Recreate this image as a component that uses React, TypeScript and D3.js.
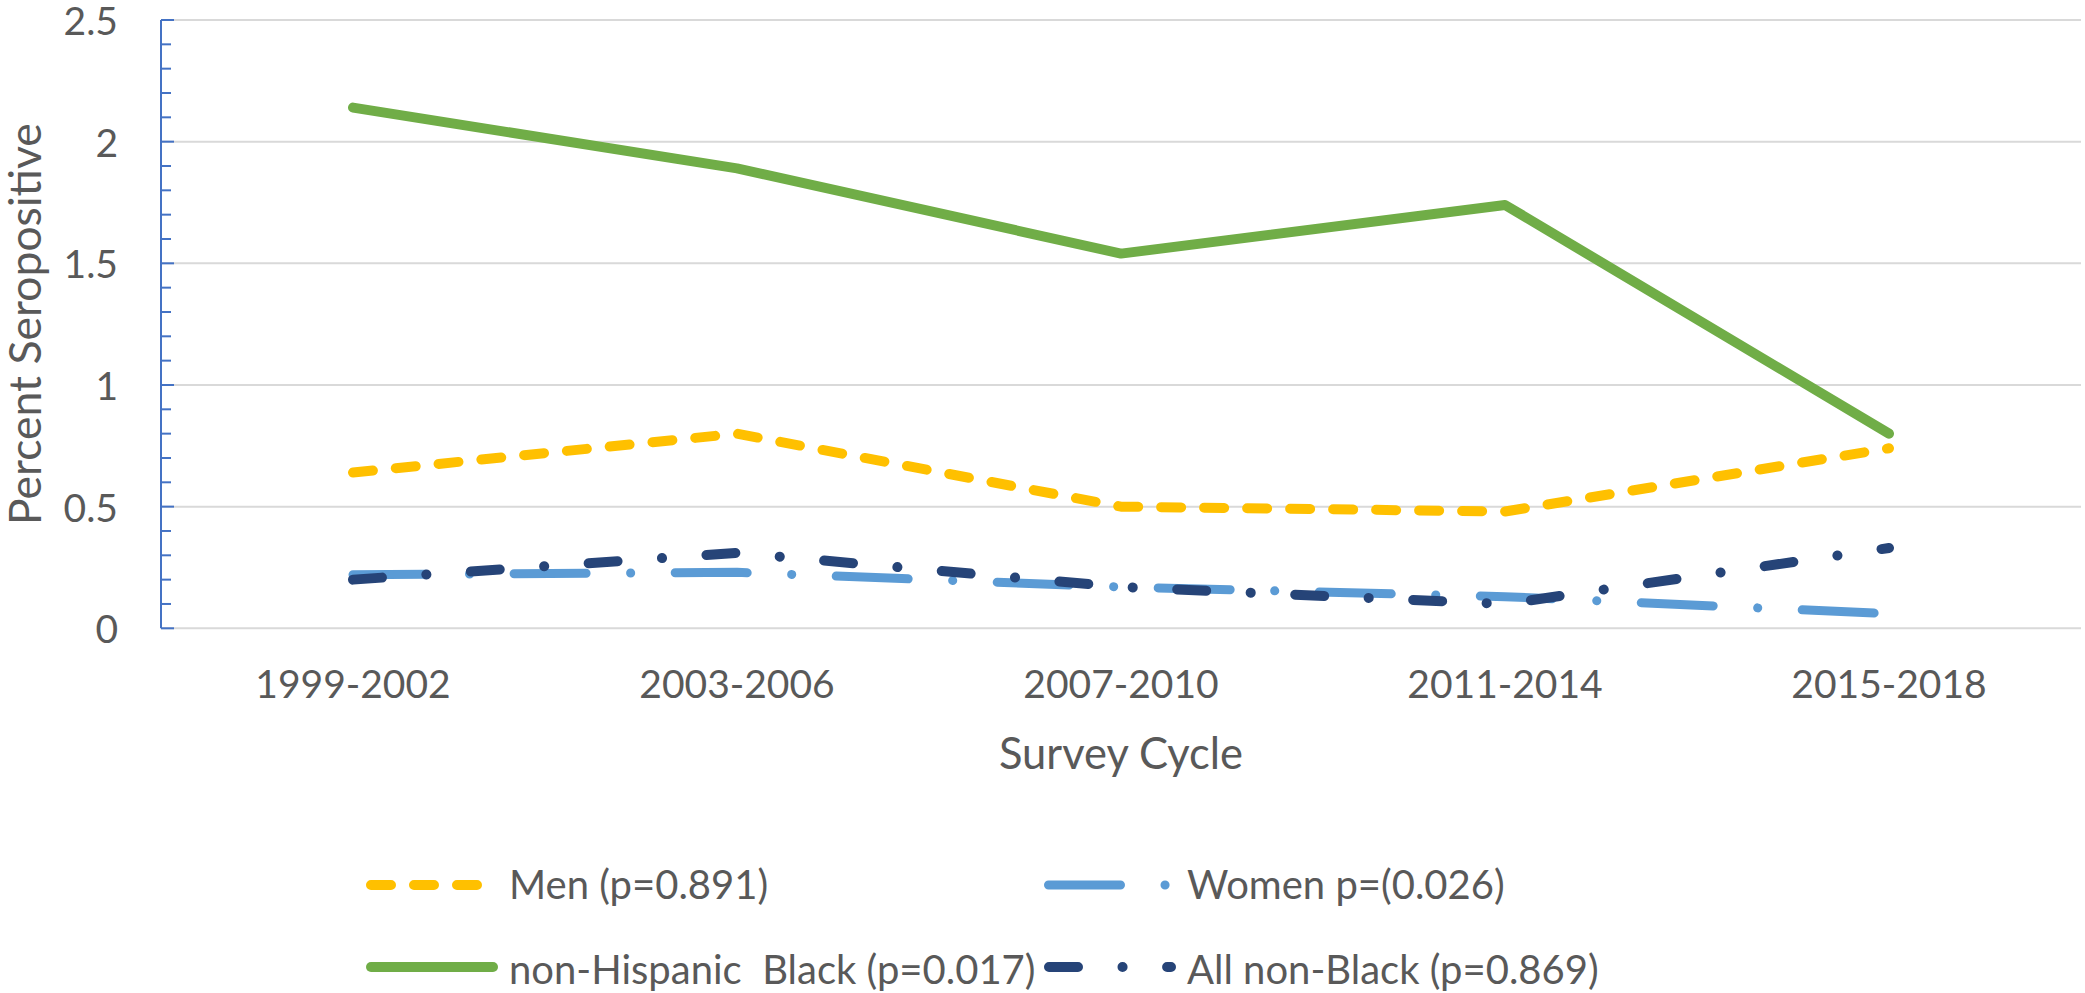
import React from 'react';
import * as d3 from 'd3';

const categories = ['1999-2002', '2003-2006', '2007-2010', '2011-2014', '2015-2018'];
const menValues = [0.64, 0.8, 0.5, 0.48, 0.74];
const womenValues = [0.22, 0.23, 0.17, 0.13, 0.06];
const nhbValues = [2.14, 1.89, 1.54, 1.74, 0.8];
const nonBlackValues = [0.2, 0.31, 0.17, 0.1, 0.33];
const yTicks = [0, 0.5, 1, 1.5, 2, 2.5];
const yTickLabels = ['0', '0.5', '1', '1.5', '2', '2.5'];
const legendLabels = ['Men (p=0.891)', 'Women p=(0.026)', 'non-Hispanic  Black (p=0.017)', 'All non-Black (p=0.869)'];

const W = 2085;
const H = 993;
const FONT = "Lato, 'Open Sans', sans-serif";
const TEXT = '#595959';

export default function App() {
  const x = d3.scaleBand<string>().domain(categories).range([161, 2081]);
  const y = d3.scaleLinear().domain([0, 2.5]).range([628.3, 20]);
  const cx = (i: number) => (x(categories[i]) as number) + x.bandwidth() / 2;

  const straight = d3.line<number>().x((_, i) => cx(i)).y((d) => y(d));

  const minorTicks = d3.range(1, 25).filter((i) => i % 5 !== 0).map((i) => i / 10);
  const x0 = 161;
  const x1 = 2081;

  const series = [
    { key: 'men', d: straight(menValues), color: '#FFC000', w: 10, dash: '20 23' },
    { key: 'women', d: straight(womenValues), color: '#5B9BD5', w: 9, dash: '72 44.5 0.1 44.5' },
    { key: 'nhb', d: straight(nhbValues), color: '#70AD47', w: 10, dash: undefined },
    { key: 'nonblack', d: straight(nonBlackValues), color: '#264478', w: 10, dash: '29 44.5 0.1 44.5' },
  ];

  const legend = [
    { s: series[0], label: legendLabels[0], lx: 371, ly: 885, tx: 509, ty: 899 },
    { s: series[1], label: legendLabels[1], lx: 1048.5, ly: 885, tx: 1187, ty: 899 },
    { s: series[2], label: legendLabels[2], lx: 371, ly: 967, tx: 509, ty: 984 },
    { s: series[3], label: legendLabels[3], lx: 1049, ly: 967, tx: 1187, ty: 984 },
  ];

  return (
    <div style={{ position: 'absolute', left: 0, top: 0 }}>
      <svg width={W} height={H} style={{ display: 'block' }}>
        <rect width={W} height={H} fill="#ffffff" />
        {yTicks.map((t) => (
          <line key={'g' + t} x1={x0} x2={x1} y1={y(t)} y2={y(t)} stroke="#D9D9D9" strokeWidth={2} />
        ))}
        <line x1={x0} x2={x0} y1={y(2.5)} y2={y(0)} stroke="#4472C4" strokeWidth={2} />
        {yTicks.map((t) => (
          <line key={'mt' + t} x1={x0} x2={x0 + 13} y1={y(t)} y2={y(t)} stroke="#4472C4" strokeWidth={2} />
        ))}
        {minorTicks.map((t) => (
          <line key={'nt' + t} x1={x0} x2={x0 + 10} y1={y(t)} y2={y(t)} stroke="#4472C4" strokeWidth={2} />
        ))}
        {yTicks.map((t, i) => (
          <text key={'yl' + t} x={118} y={y(t)} textAnchor="end" dominantBaseline="central" fontFamily={FONT} fontSize={39} fill={TEXT}>
            {yTickLabels[i]}
          </text>
        ))}
        {categories.map((c, i) => (
          <text key={c} x={cx(i)} y={698} textAnchor="middle" fontFamily={FONT} fontSize={39} fill={TEXT}>
            {c}
          </text>
        ))}
        <text x={(x0 + x1) / 2} y={769} textAnchor="middle" fontFamily={FONT} fontSize={43.5} fill={TEXT}>
          Survey Cycle
        </text>
        <text transform={`translate(41, ${(y(0) + y(2.5)) / 2}) rotate(-90)`} textAnchor="middle" fontFamily={FONT} fontSize={44.5} fill={TEXT}>
          Percent Seropositive
        </text>
        {series.map((s) => (
          <path key={s.key} d={s.d || ''} fill="none" stroke={s.color} strokeWidth={s.w} strokeLinecap="round" strokeLinejoin="round" strokeDasharray={s.dash} />
        ))}
        {legend.map((l) => (
          <g key={'lg' + l.s.key}>
            <line x1={l.lx} x2={l.lx + 122} y1={l.ly} y2={l.ly} stroke={l.s.color} strokeWidth={l.s.w} strokeLinecap="round" strokeDasharray={l.s.dash} />
            <text x={l.tx} y={l.ty} fontFamily={FONT} fontSize={40} fill={TEXT} style={{ whiteSpace: 'pre' }}>
              {l.label}
            </text>
          </g>
        ))}
      </svg>
    </div>
  );
}
